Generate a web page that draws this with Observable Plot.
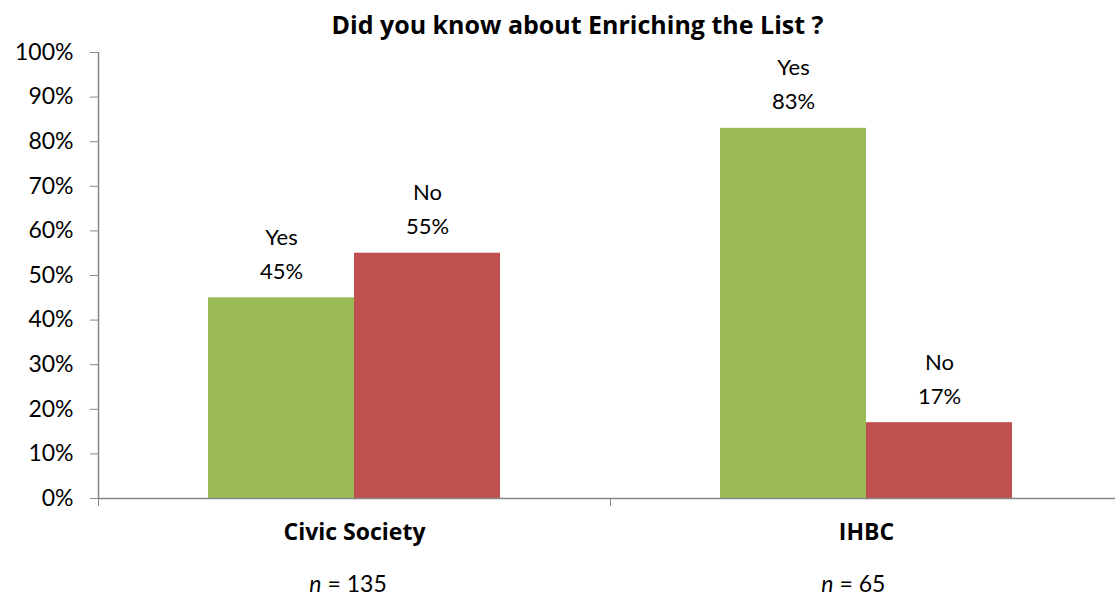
<!DOCTYPE html>
<html>
<head>
<meta charset="utf-8">
<script src="https://cdn.jsdelivr.net/npm/d3@7"></script>
<script src="https://cdn.jsdelivr.net/npm/@observablehq/plot@0.6"></script>
<style>
  html, body { margin: 0; padding: 0; background: #fff; overflow: hidden; }
  body { width: 1115px; height: 600px; font-family: Lato, "Noto Sans", sans-serif; }
  #title { height: 40px; line-height: 48px; text-align: center; padding-left: 40px; box-sizing: border-box; width: 1115px;
           font-family: "Open Sans", Lato, sans-serif; font-weight: bold; font-size: 25px; color: #000; white-space: nowrap; }
  #chart svg { display: block; overflow: visible; }
</style>
</head>
<body>
<div id="title">Did you know about Enriching the List ?</div>
<div id="chart"></div>
<script>
const categories = ["Civic Society", "IHBC"];
const answers = ["Yes", "No"];
const yesValues = [45, 83];
const noValues = [55, 17];
const sampleSizes = [135, 65];
const yTicks = [0, 10, 20, 30, 40, 50, 60, 70, 80, 90, 100];

const data = categories.flatMap((c, i) => [
  {category: c, answer: answers[0], value: yesValues[i]},
  {category: c, answer: answers[1], value: noValues[i]}
]);
const yes = data.filter(d => d.answer === "Yes");
const no = data.filter(d => d.answer === "No");
const nData = categories.map((c, i) => ({category: c, n: sampleSizes[i]}));

const green = "#9BBB59", red = "#C0504D", gray = "#868686";
const font = 22;

const chart = Plot.plot({
  width: 1115,
  height: 560,
  marginLeft: 98,
  marginRight: -7,
  marginTop: 12,
  marginBottom: 102,
  style: {fontFamily: "Lato, 'Noto Sans', sans-serif", fontSize: font + "px", color: "#000", background: "#fff"},
  x: {type: "band", domain: categories, padding: 0},
  y: {domain: [0, 100]},
  marks: [
    Plot.barY(yes, {x: "category", y: "value", fill: green, insetLeft: 110, insetRight: 256}),
    Plot.barY(no, {x: "category", y: "value", fill: red, insetLeft: 256, insetRight: 110}),
    Plot.ruleY([0], {stroke: gray, strokeWidth: 1.5}),
    Plot.ruleX([categories[0]], {dx: -256, y1: 0, y2: 100, stroke: gray, strokeWidth: 1.5}),
    Plot.axisY({ticks: yTicks, tickFormat: d => d + "%", tickSize: 8, tickPadding: 17, stroke: gray, fill: "#000", label: null, fontSize: 23}),
    Plot.axisX({tickSize: 8, tickFormat: () => "", dx: -256, stroke: gray, label: null}),
    Plot.text(yes, {x: "category", y: "value", text: d => `${d.answer}\n${d.value}%`, dx: -73, dy: -19, lineAnchor: "bottom", lineHeight: 1.55, fontSize: font, fill: "#000"}),
    Plot.text(no, {x: "category", y: "value", text: d => `${d.answer}\n${d.value}%`, dx: 73, dy: -19, lineAnchor: "bottom", lineHeight: 1.55, fontSize: font, fill: "#000"}),
    Plot.text(categories, {x: d => d, frameAnchor: "bottom", dy: 41, text: d => d, fontFamily: "'Open Sans', Lato, sans-serif", fontWeight: "bold", fontSize: 23, fill: "#000"}),
    Plot.text(nData, {x: "category", frameAnchor: "bottom", dy: 93, text: () => "n", fontStyle: "italic", textAnchor: "end", dx: -33, fontSize: 23, fill: "#000"}),
    Plot.text(nData, {x: "category", frameAnchor: "bottom", dy: 93, text: d => `= ${d.n}`, textAnchor: "start", dx: -27, fontSize: 23, fill: "#000"})
  ]
});
document.getElementById("chart").appendChild(chart);
</script>
</body>
</html>
